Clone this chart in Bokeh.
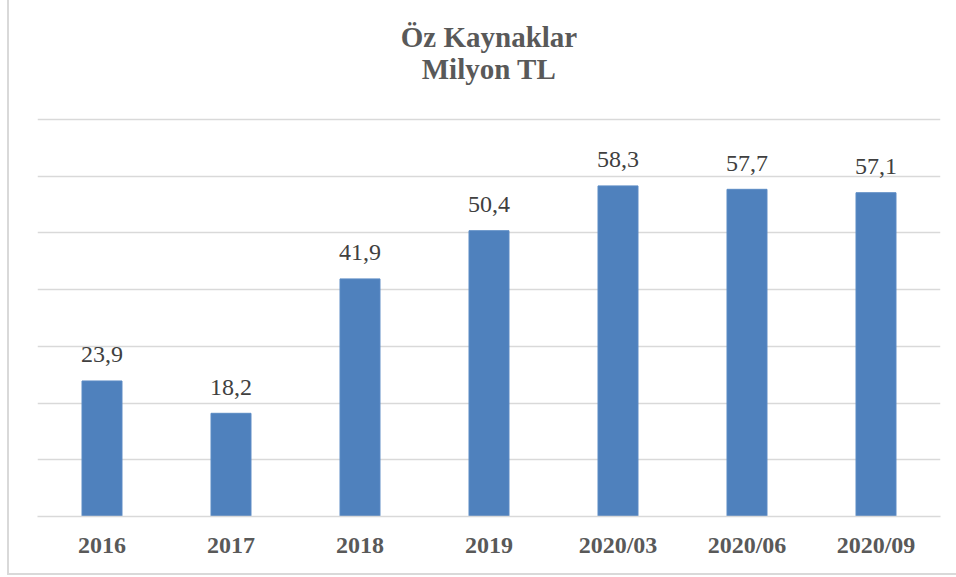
from bokeh.plotting import figure
from bokeh.models import ColumnDataSource, FactorRange, Range1d, FixedTicker
from bokeh.core.properties import value
from bokeh.embed import file_html
from bokeh.resources import INLINE

categories = ["2016", "2017", "2018", "2019", "2020/03", "2020/06", "2020/09"]
values = [23.9, 18.2, 41.9, 50.4, 58.3, 57.7, 57.1]
title_lines = ["Öz Kaynaklar", "Milyon TL"]
grid_ticks = [0, 10, 20, 30, 40, 50, 60, 70]

labels = [f"{v:.1f}".replace(".", ",") for v in values]
src = ColumnDataSource(dict(cat=categories, val=values, lab=labels))

SERIF = "Liberation Serif"
Y_TOP = 91.0  # frame extends up to the canvas top so the title fits inside

p = figure(
    x_range=FactorRange(*categories, range_padding=0),
    y_range=Range1d(0, Y_TOP),
    width=949, height=575,
    output_backend="svg", toolbar_location=None,
    min_border_left=28, min_border_right=18,
    min_border_top=0, min_border_bottom=59,
)
p.styles = {
    "margin-left": "7px",
    "border-left": "2px solid #d9d9d9",
    "border-bottom": "2px solid #d9d9d9",
}
p.outline_line_color = None
p.background_fill_color = "white"
p.border_fill_color = "white"

p.vbar(x="cat", top="val", width=0.31, source=src,
       fill_color="#4F81BD", line_color="#5B8BC4", line_width=1)

p.text(x="cat", y="val", text="lab", source=src,
       text_align="center", text_baseline="alphabetic",
       y_offset=-26, text_font=value(SERIF), text_font_size=value("24px"),
       text_color="#404040")

# chart title (two lines, centred over the plot area)
title_src = ColumnDataSource(dict(
    x=[len(categories) / 2] * len(title_lines),
    y=[82.7, 76.9],
    t=title_lines,
))
p.text(x="x", y="y", text="t", source=title_src,
       text_align="center", text_baseline="alphabetic", y_offset=-11,
       text_font=value(SERIF), text_font_style=value("bold"),
       text_font_size=value("29px"), text_color="#595959")

p.yaxis.visible = False
p.ygrid.ticker = FixedTicker(ticks=grid_ticks)
p.ygrid.grid_line_color = "#d9d9d9"
p.ygrid.grid_line_width = 1.5
p.xgrid.visible = False

ax = p.xaxis[0]
ax.axis_line_color = "#d9d9d9"
ax.axis_line_width = 1.5
ax.major_tick_line_color = None
ax.minor_tick_line_color = None
ax.major_label_standoff = 9
ax.major_label_text_font = SERIF
ax.major_label_text_font_style = "bold"
ax.major_label_text_font_size = "24px"
ax.major_label_text_color = "#595959"

open("out.html", "w").write(file_html(p, INLINE))
